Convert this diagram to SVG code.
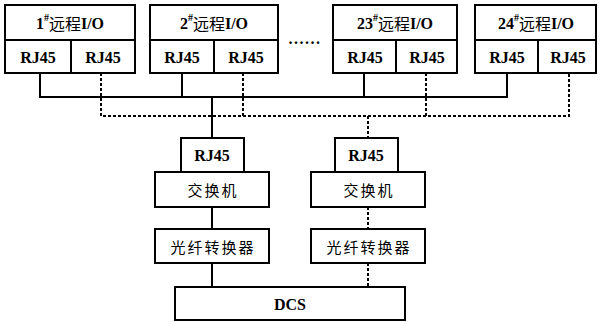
<svg xmlns="http://www.w3.org/2000/svg" width="600" height="322" viewBox="0 0 600 322">
<style>
.box{fill:#fff;stroke:#000;stroke-width:2}
.lbl{font-family:"Liberation Serif","Noto Sans CJK SC",serif;font-weight:bold;font-size:16px;text-anchor:middle;dominant-baseline:central;fill:#000}
.cn{font-family:"Noto Sans CJK SC","Liberation Serif",serif;font-size:15px;letter-spacing:2px;text-anchor:middle;dominant-baseline:central;fill:#000}
.sol{fill:none;stroke:#000;stroke-width:2}
.dsh{fill:none;stroke:#000;stroke-width:2;stroke-dasharray:3,2}
</style>
<rect width="600" height="322" fill="#fff"/>
<g id="connectors">
<path class="sol" d="M40,73V97H507V73M182,73V97M364,73V97M212,97V138"/>
<path class="dsh" d="M101,73V116H569V73M243,73V116M426,73V116M368,116V138"/>
<path class="sol" d="M212,207V229M212,263V287"/>
<path class="dsh" d="M368,207V229M368,263V287"/>
</g>
<g id="io1">
<rect class="box" x="5" y="5" width="130" height="68"/>
<path class="sol" d="M5,40H135M71,40V73"/>
<text class="lbl" x="70" y="23">1<tspan font-size="10" dy="-6">#</tspan><tspan dy="6" font-family="Noto Sans CJK SC" font-weight="normal">远程</tspan>I/O</text>
<text class="lbl" x="38" y="57">RJ45</text>
<text class="lbl" x="103" y="57">RJ45</text>
</g>
<g id="io2">
<rect class="box" x="150" y="5" width="128" height="68"/>
<path class="sol" d="M150,40H278M214,40V73"/>
<text class="lbl" x="214" y="23">2<tspan font-size="10" dy="-6">#</tspan><tspan dy="6" font-family="Noto Sans CJK SC" font-weight="normal">远程</tspan>I/O</text>
<text class="lbl" x="182" y="57">RJ45</text>
<text class="lbl" x="246" y="57">RJ45</text>
</g>
<text id="dots" class="lbl" x="305" y="38" letter-spacing="1.5">......</text>
<g id="io23">
<rect class="box" x="333" y="5" width="124" height="68"/>
<path class="sol" d="M333,40H457M396,40V73"/>
<text class="lbl" x="395" y="23">23<tspan font-size="10" dy="-6">#</tspan><tspan dy="6" font-family="Noto Sans CJK SC" font-weight="normal">远程</tspan>I/O</text>
<text class="lbl" x="365" y="57">RJ45</text>
<text class="lbl" x="427" y="57">RJ45</text>
</g>
<g id="io24">
<rect class="box" x="475" y="5" width="121" height="68"/>
<path class="sol" d="M475,40H596M538,40V73"/>
<text class="lbl" x="536" y="23">24<tspan font-size="10" dy="-6">#</tspan><tspan dy="6" font-family="Noto Sans CJK SC" font-weight="normal">远程</tspan>I/O</text>
<text class="lbl" x="507" y="57">RJ45</text>
<text class="lbl" x="568" y="57">RJ45</text>
</g>
<g id="rj45a">
<rect class="box" x="181" y="138" width="63" height="34"/>
<text class="lbl" x="212" y="155">RJ45</text>
</g>
<g id="switchA">
<rect class="box" x="155" y="172" width="114" height="35"/>
<text class="cn" x="213" y="189">交换机</text>
</g>
<g id="fiberA">
<rect class="box" x="155" y="229" width="114" height="34"/>
<text class="cn" x="213" y="246">光纤转换器</text>
</g>
<g id="rj45b">
<rect class="box" x="335" y="138" width="63" height="34"/>
<text class="lbl" x="366" y="155">RJ45</text>
</g>
<g id="switchB">
<rect class="box" x="311" y="172" width="114" height="35"/>
<text class="cn" x="369" y="189">交换机</text>
</g>
<g id="fiberB">
<rect class="box" x="311" y="229" width="114" height="34"/>
<text class="cn" x="369" y="246">光纤转换器</text>
</g>
<g id="dcs">
<rect class="box" x="175" y="287" width="230" height="33"/>
<text class="lbl" x="290" y="304">DCS</text>
</g>
</svg>
